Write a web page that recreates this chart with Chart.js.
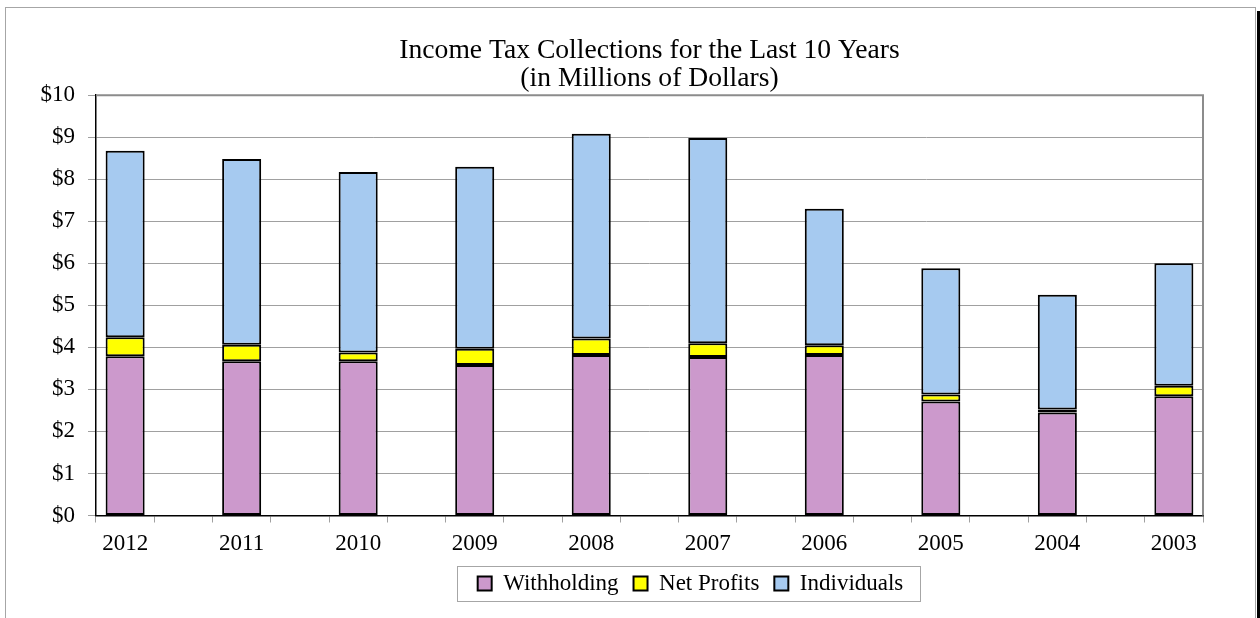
<!DOCTYPE html>
<html>
<head>
<meta charset="utf-8">
<script src="https://cdn.jsdelivr.net/npm/chart.js@4.4.1/dist/chart.umd.min.js"></script>
<style>
  html, body { margin: 0; padding: 0; background: #fff; overflow: hidden; width: 1260px; height: 618px; }
  #wrap { position: absolute; left: 0; top: 0; width: 1260px; height: 618px; overflow: hidden; }
  #frame { position: absolute; left: 5px; top: 7px; width: 1249px; height: 700px;
           border-left: 1px solid #a6a6a6; border-top: 1px solid #a6a6a6; border-right: 1px solid #a6a6a6; pointer-events: none; }
  #shadow { position: absolute; left: 1257px; top: 11px; width: 3px; height: 700px; background: #000; }
  canvas { position: absolute; left: 0; top: 0; }
</style>
</head>
<body>
<div id="wrap">
  <canvas id="c" width="1341" height="618"></canvas>
  <div id="frame"></div>
  <div id="shadow"></div>
</div>
<script>
const years = ['2012', '2011', '2010', '2009', '2008', '2007', '2006', '2005', '2004', '2003'];
const withholding = [3.79, 3.67, 3.67, 3.58, 3.82, 3.77, 3.82, 2.71, 2.45, 2.84];
const netProfits  = [0.45, 0.39, 0.21, 0.39, 0.39, 0.33, 0.23, 0.17, 0.07, 0.25];
const individuals = [4.44, 4.42, 4.29, 4.33, 4.87, 4.88, 3.25, 3.00, 2.73, 2.91];
const yTicks = [0, 1, 2, 3, 4, 5, 6, 7, 8, 9, 10];
const titleLines = ['Income Tax Collections for the Last 10 Years', '(in Millions of Dollars)'];

// Excel layout: an empty category slot between consecutive years
function spread(arr, filler) {
  const out = [];
  arr.forEach((v, i) => { if (i > 0) out.push(filler); out.push(v); });
  return out;
}
const labels = spread(years, '');

const FONT = "'Liberation Serif', 'Times New Roman', serif";

const plotFrame = {
  id: 'plotFrame',
  beforeDatasetsDraw(chart) {
    const {ctx, chartArea: a} = chart;
    ctx.save();
    ctx.strokeStyle = '#8c8c8c';
    ctx.lineWidth = 2;
    ctx.beginPath();
    ctx.moveTo(a.left, a.top);
    ctx.lineTo(a.right, a.top);
    ctx.lineTo(a.right, a.bottom);
    ctx.stroke();
    ctx.restore();
  }
};

const legendFrame = {
  id: 'legendFrame',
  afterDraw(chart) {
    const lg = chart.legend;
    if (!lg || !lg.legendHitBoxes || !lg.legendHitBoxes.length) return;
    const hb = lg.legendHitBoxes;
    const left = Math.min(...hb.map(h => h.left));
    const right = Math.max(...hb.map(h => h.left + h.width));
    const top = Math.min(...hb.map(h => h.top));
    const bottom = Math.max(...hb.map(h => h.top + h.height));
    const ctx = chart.ctx;
    ctx.save();
    ctx.strokeStyle = '#a6a6a6';
    ctx.lineWidth = 1;
    ctx.strokeRect(Math.round(left - 21) + 0.5, Math.round(top - 6) + 0.5,
                   Math.round(right - left + 37), Math.round(bottom - top + 12));
    ctx.restore();
  }
};

new Chart(document.getElementById('c'), {
  type: 'bar',
  data: {
    labels: labels,
    datasets: [
      { label: 'Withholding', data: spread(withholding, null), backgroundColor: '#CC99CC' },
      { label: 'Net Profits', data: spread(netProfits, null), backgroundColor: '#FFFF00' },
      { label: 'Individuals', data: spread(individuals, null), backgroundColor: '#A6CAF0' }
    ]
  },
  options: {
    responsive: false,
    animation: false,
    devicePixelRatio: 1,
    layout: { padding: { left: 40, right: 0, top: 0, bottom: 13 } },
    datasets: {
      bar: {
        borderColor: '#000000',
        borderWidth: 2,
        borderSkipped: false,
        categoryPercentage: 1.0,
        barPercentage: 0.67
      }
    },
    scales: {
      x: {
        stacked: true,
        offset: true,
        afterFit(s) { s.height = 41.5; },
        grid: { display: true, drawOnChartArea: false, offset: true, tickLength: 7, color: '#a0a0a0' },
        border: { display: true, color: '#000000', width: 1.5 },
        ticks: { color: '#000', font: { family: FONT, size: 23, lineHeight: 0.5 }, padding: 16, autoSkip: false, maxRotation: 0 }
      },
      y: {
        stacked: true,
        min: 0,
        max: 10,
        afterBuildTicks(s) { s.ticks = yTicks.map(v => ({ value: v })); },
        afterFit(s) { s.width = 56; },
        grid: { color: '#a0a0a0', tickLength: 8, lineWidth: 1 },
        border: { display: true, color: '#000000', width: 1.5 },
        ticks: { color: '#000', font: { family: FONT, size: 23 }, padding: 13, callback: v => '$' + v }
      },
      gutter: {
        type: 'linear',
        position: 'right',
        display: true,
        afterFit(s) { s.width = 138; },
        grid: { display: false },
        border: { display: false },
        ticks: { display: false }
      }
    },
    plugins: {
      title: {
        display: true,
        fullSize: false,
        text: titleLines,
        color: '#000',
        font: { family: FONT, size: 27.6, weight: 'normal', lineHeight: 1.0 },
        padding: { top: 37, bottom: 3 }
      },
      legend: {
        display: true,
        position: 'bottom',
        fullSize: true,
        labels: {
          color: '#000',
          font: { family: FONT, size: 23 },
          boxWidth: 14,
          boxHeight: 14,
          padding: 15
        }
      },
      tooltip: { enabled: false }
    }
  },
  plugins: [plotFrame, legendFrame]
});
</script>
</body>
</html>
